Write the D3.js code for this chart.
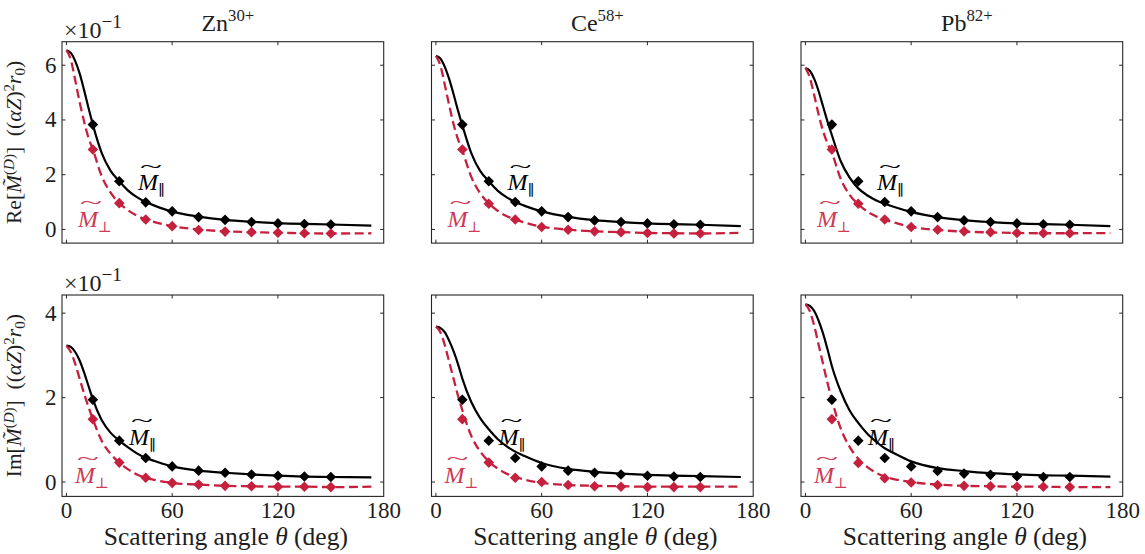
<!DOCTYPE html>
<html>
<head>
<meta charset="utf-8">
<script src="https://cdn.jsdelivr.net/npm/d3@7"></script>
<style>
  body { margin: 0; background: #fff; }
  svg { display: block; font-family: "Liberation Serif", "DejaVu Serif", serif; }
</style>
</head>
<body>
<svg id="chart" width="1145" height="554"></svg>
<script>
// ---- data (values in units of 10^-1 (alpha Z)^2 r0) ----
const lineAngles   = [0, 2.5, 5, 7.5, 10, 12.5, 15, 20, 25, 30, 35, 40, 45, 50, 60, 75, 90, 105, 120, 135, 150, 173];
const markerAngles = [15, 30, 45, 60, 75, 90, 105, 120, 135, 150];
const ionNames   = ["Zn", "Ce", "Pb"];
const ionCharges = ["30+", "58+", "82+"];
const xTicks  = [0, 60, 120, 180];
const reTicks = [0, 2, 4, 6];
const imTicks = [0, 2, 4];

// real part, curves
const reParZn  = [6.55, 6.45, 6.15, 5.7, 5.1, 4.45, 3.83, 2.8, 2.15, 1.76, 1.42, 1.18, 1.0, 0.87, 0.65, 0.47, 0.35, 0.28, 0.23, 0.2, 0.18, 0.14];
const rePerpZn = [6.55, 6.2, 5.45, 4.65, 3.95, 3.35, 2.92, 1.95, 1.35, 0.96, 0.7, 0.5, 0.36, 0.27, 0.12, 0.0, -0.07, -0.1, -0.12, -0.14, -0.15, -0.14];
const reParCe  = [6.34, 6.25, 5.95, 5.5, 4.95, 4.35, 3.8, 2.8, 2.15, 1.76, 1.42, 1.18, 1.0, 0.87, 0.66, 0.46, 0.34, 0.27, 0.22, 0.19, 0.17, 0.12];
const rePerpCe = [6.34, 6.0, 5.3, 4.55, 3.85, 3.3, 2.88, 1.93, 1.33, 0.95, 0.68, 0.49, 0.36, 0.26, 0.1, -0.01, -0.07, -0.1, -0.13, -0.14, -0.15, -0.12];
const reParPb  = [5.9, 5.8, 5.5, 5.05, 4.5, 3.95, 3.45, 2.5, 1.9, 1.5, 1.25, 1.07, 0.94, 0.83, 0.64, 0.45, 0.34, 0.27, 0.22, 0.19, 0.17, 0.12];
const rePerpPb = [5.9, 5.55, 4.9, 4.2, 3.6, 3.15, 2.8, 1.85, 1.27, 0.92, 0.66, 0.48, 0.35, 0.26, 0.09, -0.02, -0.08, -0.11, -0.13, -0.14, -0.14, -0.13];

// imaginary part, curves
const imParZn  = [3.23, 3.2, 3.08, 2.88, 2.6, 2.28, 1.96, 1.47, 1.17, 0.98, 0.82, 0.68, 0.57, 0.5, 0.37, 0.27, 0.22, 0.18, 0.15, 0.13, 0.12, 0.11];
const imPerpZn = [3.23, 3.08, 2.8, 2.45, 2.1, 1.78, 1.49, 0.98, 0.67, 0.46, 0.3, 0.18, 0.1, 0.05, -0.02, -0.06, -0.09, -0.1, -0.11, -0.11, -0.12, -0.11];
const imParCe  = [3.68, 3.65, 3.55, 3.35, 3.1, 2.8, 2.45, 1.9, 1.52, 1.25, 1.02, 0.85, 0.72, 0.62, 0.45, 0.31, 0.24, 0.2, 0.17, 0.15, 0.14, 0.12];
const imPerpCe = [3.68, 3.55, 3.25, 2.85, 2.45, 2.05, 1.7, 1.1, 0.73, 0.49, 0.32, 0.2, 0.12, 0.06, -0.02, -0.07, -0.09, -0.1, -0.11, -0.11, -0.11, -0.11];
const imParPb  = [4.21, 4.17, 4.05, 3.82, 3.52, 3.15, 2.75, 2.15, 1.7, 1.4, 1.15, 0.96, 0.8, 0.69, 0.49, 0.33, 0.26, 0.21, 0.18, 0.16, 0.15, 0.13];
const imPerpPb = [4.21, 4.05, 3.7, 3.25, 2.8, 2.35, 1.95, 1.27, 0.84, 0.55, 0.36, 0.22, 0.13, 0.07, 0.0, -0.06, -0.09, -0.1, -0.11, -0.11, -0.12, -0.12];

// real part, computed points
const reParPtsZn  = [3.83, 1.76, 0.99, 0.66, 0.45, 0.35, 0.27, 0.22, 0.2, 0.18];
const rePerpPtsZn = [2.92, 0.96, 0.36, 0.12, -0.02, -0.08, -0.1, -0.12, -0.14, -0.15];
const reParPtsCe  = [3.83, 1.76, 1.0, 0.66, 0.45, 0.33, 0.27, 0.22, 0.19, 0.17];
const rePerpPtsCe = [2.92, 0.94, 0.36, 0.09, -0.01, -0.07, -0.1, -0.13, -0.15, -0.15];
const reParPtsPb  = [3.83, 1.76, 1.0, 0.66, 0.45, 0.33, 0.27, 0.22, 0.19, 0.17];
const rePerpPtsPb = [2.92, 0.94, 0.36, 0.09, -0.01, -0.07, -0.1, -0.13, -0.14, -0.14];

// imaginary part, computed points
const imParPtsZn  = [1.95, 0.98, 0.57, 0.37, 0.27, 0.22, 0.18, 0.15, 0.13, 0.12];
const imPerpPtsZn = [1.49, 0.46, 0.1, -0.02, -0.06, -0.09, -0.1, -0.11, -0.11, -0.12];
const imParPtsCe  = [1.95, 0.98, 0.57, 0.37, 0.27, 0.22, 0.18, 0.15, 0.13, 0.12];
const imPerpPtsCe = [1.49, 0.46, 0.1, 0.0, -0.07, -0.1, -0.11, -0.12, -0.12, -0.12];
const imParPtsPb  = [1.95, 0.98, 0.57, 0.37, 0.26, 0.2, 0.17, 0.14, 0.12, 0.12];
const imPerpPtsPb = [1.49, 0.45, 0.09, -0.01, -0.07, -0.09, -0.1, -0.11, -0.11, -0.12];

// ---- layout ----
const svg = d3.select("#chart");
const FS = 24;        // titles, curve labels
const FS_TICK = 23;   // tick labels
const FS_YLAB = 21.5; // y axis titles
const INK = "#1e1e1e";
const RED = "#c5203e";
const RED_TEXT = "#cc3a55";
const colLeft = [62, 431.5, 801];
const panelW = 321.7;
const rowTop = [41.7, 295];
const panelH = 201.4;

const rows = [
  { part: "Re", ticks: reTicks, domain: [-0.5, 6.86],
    par: [reParZn, reParCe, reParPb], perp: [rePerpZn, rePerpCe, rePerpPb],
    parPts: [reParPtsZn, reParPtsCe, reParPtsPb], perpPts: [rePerpPtsZn, rePerpPtsCe, rePerpPtsPb],
    labelPar: [40.6, 1.43], labelPerp: [6.6, 0.08] },
  { part: "Im", ticks: imTicks, domain: [-0.34, 4.43],
    par: [imParZn, imParCe, imParPb], perp: [imPerpZn, imPerpCe, imPerpPb],
    parPts: [imParPtsZn, imParPtsCe, imParPtsPb], perpPts: [imPerpPtsZn, imPerpPtsCe, imPerpPtsPb],
    labelPar: [35.5, 0.88], labelPerp: [4.9, -0.02] }
];

// lays out a row of text pieces (roman/italic, super/subscripts) left to right
function mathText(g, parts, size, color) {
  let x = 0;
  const spans = [];
  for (const p of parts) {
    const fs = size * (p.s || 1);
    const t = g.append("text")
      .attr("x", x).attr("y", (p.y || 0) * size)
      .attr("fill", color)
      .style("font-size", fs + "px")
      .style("font-style", p.i ? "italic" : "normal")
      .text(p.t);
    const w = t.node().getComputedTextLength();
    spans.push({ x0: x, x1: x + w });
    x += w + (p.gap || 0) * size;
  }
  return { width: x, spans };
}

// wide tilde accent over a span
function tilde(g, x0, x1, size, color, skew, lift) {
  const t = g.append("text").text("~").attr("fill", color)
    .attr("text-anchor", "middle").style("font-size", size + "px");
  const w = t.node().getComputedTextLength();
  const cx = (x0 + x1) / 2 + (skew || 0);
  t.attr("transform", `translate(${cx},${-size * (lift || 0.74)}) scale(${(x1 - x0) * 1.0 / w},0.8)`);
}

function mLabel(g, sub, color) {
  const r = mathText(g, [{ t: "M", i: 1 }, { t: sub, s: 0.62, y: 0.2 }], FS, color);
  tilde(g, r.spans[0].x0, r.spans[0].x1 + 2, FS, color, 2);
}

const xScale = d3.scaleLinear().domain([-2.5, 180]).range([0, panelW]);
const line = (y) => d3.line().x(d => xScale(d[0])).y(d => y(d[1])).curve(d3.curveMonotoneX);
const diamond = r => `M0,${-r}L${r},0L0,${r}L${-r},0Z`;
const tickLen = 3.5;

rows.forEach((row, ri) => {
  const yScale = d3.scaleLinear().domain(row.domain).range([panelH, 0]);
  ionNames.forEach((ion, ci) => {
    const g = svg.append("g").attr("transform", `translate(${colLeft[ci]},${rowTop[ri]})`);
    const clipId = `clip-${ri}-${ci}`;
    g.append("clipPath").attr("id", clipId).append("rect")
      .attr("width", panelW).attr("height", panelH);
    const plot = g.append("g").attr("clip-path", `url(#${clipId})`);

    const parLine = lineAngles.map((a, i) => [a, row.par[ci][i]]);
    const perpLine = lineAngles.map((a, i) => [a, row.perp[ci][i]]);

    plot.append("path").datum(parLine).attr("d", line(yScale))
      .attr("fill", "none").attr("stroke", "#000").attr("stroke-width", 2.2);
    plot.append("path").datum(perpLine).attr("d", line(yScale))
      .attr("fill", "none").attr("stroke", RED).attr("stroke-width", 2.3)
      .attr("stroke-dasharray", "9,4.5");

    plot.selectAll(".mpar").data(markerAngles.map((a, i) => [a, row.parPts[ci][i]]))
      .enter().append("path").attr("d", diamond(5.3))
      .attr("transform", d => `translate(${xScale(d[0])},${yScale(d[1])})`)
      .attr("fill", "#000");
    plot.selectAll(".mperp").data(markerAngles.map((a, i) => [a, row.perpPts[ci][i]]))
      .enter().append("path").attr("d", diamond(5.3))
      .attr("transform", d => `translate(${xScale(d[0])},${yScale(d[1])})`)
      .attr("fill", RED);

    // curve labels
    const lp = g.append("g").attr("transform",
      `translate(${xScale(row.labelPar[0])},${yScale(row.labelPar[1])})`);
    mLabel(lp, "\u2225", "#000");
    const lq = g.append("g").attr("transform",
      `translate(${xScale(row.labelPerp[0])},${yScale(row.labelPerp[1])})`);
    mLabel(lq, "\u22A5", RED_TEXT);

    // frame and inward ticks on all four sides
    g.append("rect").attr("width", panelW).attr("height", panelH)
      .attr("fill", "none").attr("stroke", "#262626").attr("stroke-width", 1.1);
    xTicks.filter(v => v < 179).forEach(v => {
      const px = xScale(v);
      g.append("line").attr("x1", px).attr("x2", px).attr("y1", panelH).attr("y2", panelH - tickLen)
        .attr("stroke", "#262626");
      g.append("line").attr("x1", px).attr("x2", px).attr("y1", 0).attr("y2", tickLen)
        .attr("stroke", "#262626");
    });
    row.ticks.forEach(v => {
      const py = yScale(v);
      g.append("line").attr("x1", 0).attr("x2", tickLen).attr("y1", py).attr("y2", py)
        .attr("stroke", "#262626");
      g.append("line").attr("x1", panelW).attr("x2", panelW - tickLen).attr("y1", py).attr("y2", py)
        .attr("stroke", "#262626");
    });

    // y tick labels on the first column
    if (ci === 0) {
      row.ticks.forEach(v => {
        g.append("text").attr("x", -5.5).attr("y", yScale(v))
          .attr("text-anchor", "end").attr("dominant-baseline", "central")
          .style("font-size", FS_TICK + "px").attr("fill", INK).text(v);
      });
      // scale factor
      const off = g.append("g").attr("transform", `translate(2,-4)`);
      mathText(off, [{ t: "\u00D710" }, { t: "\u22121", s: 0.8, y: -0.4 }], FS, INK);

      // y axis title (tilde carried by a combining accent on M)
      const yl = g.append("g");
      const r = mathText(yl, [
        { t: row.part + "[" },
        { t: "M\u0303", i: 1 },
        { t: "(", s: 0.7, y: -0.33 }, { t: "D", s: 0.7, y: -0.33, i: 1 }, { t: ")", s: 0.7, y: -0.33 },
        { t: "]\u2002((" },
        { t: "\u03B1", i: 1 }, { t: "Z", i: 1 }, { t: ")" },
        { t: "2", s: 0.7, y: -0.33 },
        { t: "r", i: 1 }, { t: "0", s: 0.7, y: 0.2 }, { t: ")" }
      ], FS_YLAB, INK);
      yl.attr("transform", `translate(${-41},${panelH / 2 + r.width / 2}) rotate(-90)`);
    }

    // x tick labels and axis title on the bottom row
    if (ri === 1) {
      xTicks.forEach(v => {
        g.append("text").attr("x", xScale(v)).attr("y", panelH + 21.5)
          .attr("text-anchor", "middle").style("font-size", FS_TICK + "px")
          .attr("fill", INK).text(v);
      });
      const xl = g.append("g");
      const r = mathText(xl, [{ t: "Scattering angle\u00A0" }, { t: "\u03B8", i: 1 }, { t: "\u00A0(deg)" }], 25.5, INK);
      xl.attr("transform", `translate(${panelW / 2 - r.width / 2 + 3},${panelH + 48.5})`);
    }

    // ion titles on the top row
    if (ri === 0) {
      const tl = g.append("g");
      const r = mathText(tl, [{ t: ion }, { t: ionCharges[ci], s: 0.7, y: -0.42 }], FS, INK);
      tl.attr("transform", `translate(${panelW / 2 - r.width / 2 + 5},${-10.5})`);
    }
  });
});
</script>
</body>
</html>
